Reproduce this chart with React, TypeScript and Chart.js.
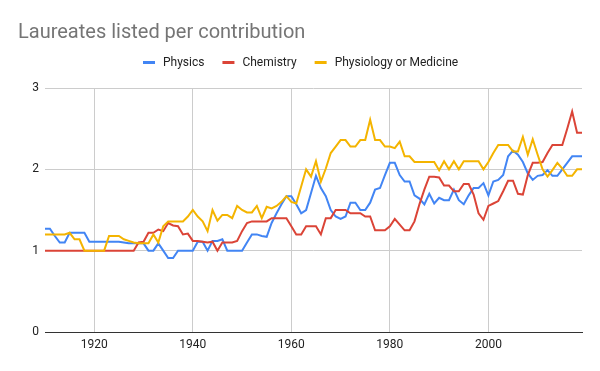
import React, { useEffect, useRef } from "react";
import { Chart, registerables } from "chart.js";

Chart.register(...registerables);

const TITLE = "Laureates listed per contribution";
const FIRST_YEAR = 1910;
const LAST_YEAR = 2019;
const X_TICKS = [1920, 1940, 1960, 1980, 2000];
const Y_TICKS = [0, 1, 2, 3];

const SERIES_NAMES = ["Physics", "Chemistry", "Physiology or Medicine"];
const SERIES_COLORS = ["#4285F4", "#DB4437", "#F4B400"];

const PHYSICS = [
  1.27, 1.27, 1.18, 1.1, 1.1, 1.22, 1.22, 1.22, 1.22, 1.11,
  1.11, 1.11, 1.11, 1.11, 1.11, 1.11, 1.1, 1.09, 1.09, 1.09,
  1.09, 1.0, 1.0, 1.09, 1.0, 0.91, 0.91, 1.0, 1.0, 1.0,
  1.0, 1.11, 1.11, 1.0, 1.12, 1.12, 1.14, 1.0, 1.0, 1.0,
  1.0, 1.1, 1.2, 1.2, 1.18, 1.17, 1.34, 1.46, 1.57, 1.67,
  1.67, 1.57, 1.46, 1.5, 1.71, 1.92, 1.77, 1.67, 1.5, 1.42,
  1.39, 1.42, 1.59, 1.59, 1.5, 1.5, 1.59, 1.75, 1.77, 1.93,
  2.08, 2.08, 1.93, 1.85, 1.85, 1.68, 1.64, 1.57, 1.7, 1.58,
  1.65, 1.62, 1.62, 1.75, 1.62, 1.57, 1.68, 1.77, 1.77, 1.83,
  1.68, 1.85, 1.87, 1.93, 2.16, 2.23, 2.18, 2.09, 1.95, 1.87,
  1.92, 1.93, 1.99, 1.92, 1.92, 2.0, 2.08, 2.16, 2.16, 2.16,
];

const CHEMISTRY = [
  1.0, 1.0, 1.0, 1.0, 1.0, 1.0, 1.0, 1.0, 1.0, 1.0,
  1.0, 1.0, 1.0, 1.0, 1.0, 1.0, 1.0, 1.0, 1.0, 1.1,
  1.11, 1.22, 1.22, 1.26, 1.24, 1.34, 1.31, 1.3, 1.2, 1.21,
  1.12, 1.12, 1.11, 1.1, 1.11, 1.0, 1.1, 1.1, 1.1, 1.12,
  1.24, 1.34, 1.36, 1.36, 1.36, 1.36, 1.4, 1.4, 1.4, 1.4,
  1.3, 1.2, 1.2, 1.3, 1.3, 1.3, 1.2, 1.4, 1.4, 1.5,
  1.5, 1.5, 1.46, 1.46, 1.46, 1.42, 1.42, 1.25, 1.25, 1.25,
  1.3, 1.39, 1.32, 1.25, 1.25, 1.36, 1.57, 1.75, 1.91, 1.91,
  1.9, 1.8, 1.8, 1.73, 1.73, 1.82, 1.82, 1.69, 1.46, 1.38,
  1.55, 1.58, 1.61, 1.73, 1.86, 1.86, 1.7, 1.69, 1.93, 2.08,
  2.08, 2.09, 2.2, 2.3, 2.3, 2.3, 2.5, 2.71, 2.45, 2.45,
];

const MEDICINE = [
  1.2, 1.2, 1.2, 1.2, 1.2, 1.22, 1.14, 1.14, 1.0, 1.0,
  1.0, 1.0, 1.0, 1.18, 1.18, 1.18, 1.14, 1.12, 1.1, 1.09,
  1.09, 1.09, 1.2, 1.1, 1.3, 1.36, 1.36, 1.36, 1.36, 1.42,
  1.5, 1.42, 1.36, 1.24, 1.5, 1.37, 1.44, 1.44, 1.4, 1.55,
  1.5, 1.47, 1.47, 1.55, 1.4, 1.54, 1.52, 1.55, 1.6, 1.67,
  1.6, 1.58, 1.79, 2.0, 1.91, 2.1, 1.85, 2.01, 2.2, 2.28,
  2.36, 2.36, 2.28, 2.28, 2.36, 2.36, 2.61, 2.36, 2.36, 2.28,
  2.28, 2.26, 2.34, 2.16, 2.16, 2.09, 2.09, 2.09, 2.09, 2.09,
  1.99, 2.1, 2.0, 2.1, 2.0, 2.1, 2.1, 2.1, 2.1, 2.0,
  2.09, 2.2, 2.3, 2.3, 2.3, 2.22, 2.22, 2.4, 2.18, 2.37,
  2.18, 2.0, 1.91, 1.99, 2.08, 2.01, 1.92, 1.92, 2.0, 2.0,
];

const YEARS = Array.from({ length: LAST_YEAR - FIRST_YEAR + 1 }, (_, i) => FIRST_YEAR + i);
const SERIES_VALUES = [PHYSICS, CHEMISTRY, MEDICINE];

const FONT = "Roboto, 'Noto Sans', Arial, sans-serif";

const headerPlugin = {
  id: "header",
  afterDraw(chart: any) {
    const ctx = chart.ctx as CanvasRenderingContext2D;
    ctx.save();
    ctx.textBaseline = "alphabetic";
    ctx.textAlign = "left";
    ctx.font = `20px ${FONT}`;
    ctx.fillStyle = "#757575";
    ctx.fillText(TITLE, 18, 38);

    ctx.font = `12px ${FONT}`;
    const box = 12;
    const gapBox = 8;
    const gapItem = 18;
    const widths = SERIES_NAMES.map((n) => ctx.measureText(n).width);
    const total =
      widths.reduce((a, w) => a + box + gapBox + w, 0) + gapItem * (SERIES_NAMES.length - 1);
    let x = Math.round(301 - total / 2);
    SERIES_NAMES.forEach((name, i) => {
      ctx.fillStyle = SERIES_COLORS[i];
      ctx.fillRect(x, 61, box, 3);
      x += box + gapBox;
      ctx.fillStyle = "#222222";
      ctx.fillText(name, x, 66);
      x += widths[i] + gapItem;
    });
    ctx.restore();
  },
};

export default function App() {
  const canvasRef = useRef<HTMLCanvasElement | null>(null);

  useEffect(() => {
    if (!canvasRef.current) return;
    const datasets = SERIES_NAMES.map((name, i) => ({
      label: name,
      data: YEARS.map((y, j) => ({ x: y, y: SERIES_VALUES[i][j] })),
      borderColor: SERIES_COLORS[i],
      backgroundColor: SERIES_COLORS[i],
      borderWidth: 2,
      pointRadius: 0,
      tension: 0,
      fill: false,
      order: 3 - i,
    }));

    const chart = new Chart(canvasRef.current, {
      type: "line",
      data: { datasets },
      plugins: [headerPlugin],
      options: {
        responsive: false,
        animation: false,
        layout: { padding: { top: 88, right: 18, left: 0, bottom: 0 } },
        plugins: {
          legend: { display: false },
          title: { display: false },
          tooltip: { enabled: false },
        },
        scales: {
          x: {
            type: "linear",
            min: FIRST_YEAR,
            max: LAST_YEAR,
            afterBuildTicks: (scale: any) => {
              scale.ticks = X_TICKS.map((v) => ({ value: v }));
            },
            afterFit: (scale: any) => {
              scale.height = 39;
            },
            grid: { color: "#cccccc", drawTicks: false },
            border: { display: true, color: "#333333", width: 1 },
            ticks: {
              font: { family: FONT, size: 12 },
              color: "#222222",
              padding: 6,
              maxRotation: 0,
              callback: (v: any) => String(v),
            },
          },
          y: {
            min: 0,
            max: 3,
            afterBuildTicks: (scale: any) => {
              scale.ticks = Y_TICKS.map((v) => ({ value: v }));
            },
            afterFit: (scale: any) => {
              scale.width = 45;
            },
            grid: { color: "#cccccc", drawTicks: false },
            border: { display: false },
            ticks: {
              font: { family: FONT, size: 12 },
              color: "#222222",
              padding: 6,
            },
          },
        },
      },
    });
    return () => chart.destroy();
  }, []);

  return (
    <div style={{ position: "absolute", left: 0, top: 0, width: 600, height: 371, background: "#fff" }}>
      <canvas ref={canvasRef} width={600} height={371} />
    </div>
  );
}
